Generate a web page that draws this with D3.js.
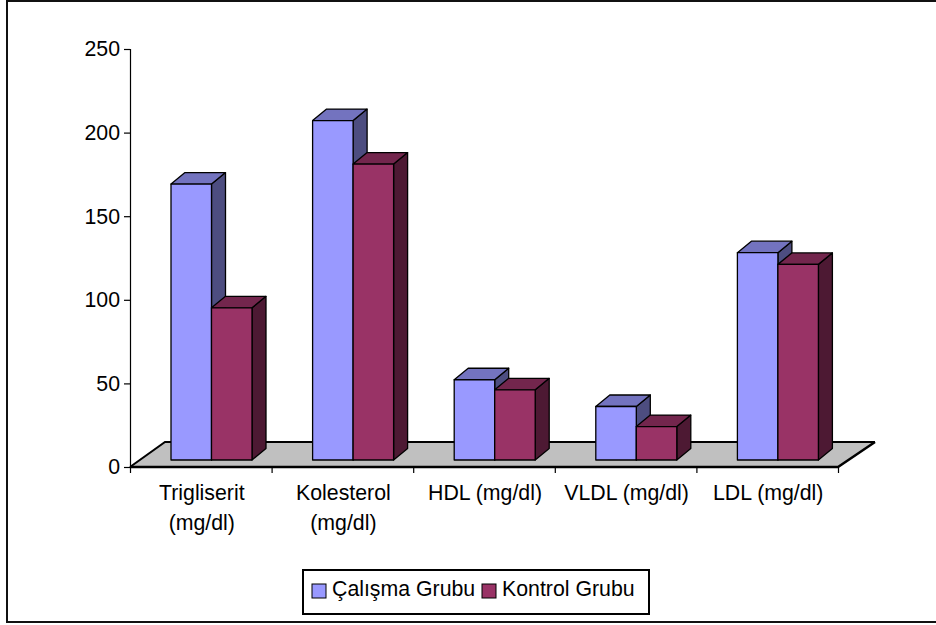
<!DOCTYPE html>
<html>
<head>
<meta charset="utf-8">
<script src="https://cdn.jsdelivr.net/npm/d3@7"></script>
<style>
    html, body { margin: 0; padding: 0; background: #fff; }
    svg { display: block; }
    text { font-family: "Liberation Sans", Arial, sans-serif; fill: #000; }
</style>
</head>
<body>
<svg id="drawing_region"></svg>
<script>
const categories = [["Trigliserit", "(mg/dl)"], ["Kolesterol", "(mg/dl)"], ["HDL (mg/dl)"], ["VLDL (mg/dl)"], ["LDL (mg/dl)"]];
const calisma = [165, 203, 48, 32, 124];
const kontrol = [91, 177, 42, 20, 117];
const yTicks = [0, 50, 100, 150, 200, 250];
const seriesNames = ["Çalışma Grubu", "Kontrol Grubu"];

const width = 936, height = 625;
const left = 130, right = 838, top0 = 49, bottom = 467;
const fontSize = 21.3;
const depth = {x: 35, y: 25};      // floor depth
const barDepth = {x: 14, y: 11.5}; // bar depth
const barLift = 7;                 // bars stand a little behind the front edge

const colors = [
    {front: "#9999ff", top: "#7373bf", side: "#4d4d80"},
    {front: "#993366", top: "#73264d", side: "#4d1933"}
];

const svg = d3.select("#drawing_region").attr("width", width).attr("height", height);

// frame, the right side is cut off in the original
svg.append("path")
    .attr("d", `M936,1H7V622H936`)
    .attr("fill", "white").attr("stroke", "#111").attr("stroke-width", 2);

const x = d3.scaleBand().domain(d3.range(categories.length)).range([left, right]);
const xInner = d3.scaleBand().domain([0, 1]).range([41, 122]);
const y = d3.scaleLinear().domain([0, 250]).range([bottom, top0]);

// floor
svg.append("path")
    .attr("d", `M${left},${bottom}L${left + depth.x},${bottom - depth.y}H${right + depth.x + 2}L${right},${bottom}Z`)
    .attr("fill", "#c0c0c0").attr("stroke", "none");
svg.append("path")
    .attr("d", `M${left},${bottom}L${left + depth.x},${bottom - depth.y}H${right + depth.x + 2}`)
    .attr("fill", "none").attr("stroke", "#000").attr("stroke-width", 2);
svg.append("path")
    .attr("d", `M${left},${bottom}H${right}L${right + depth.x + 2},${bottom - depth.y}`)
    .attr("fill", "none").attr("stroke", "#000").attr("stroke-width", 2.5);

// axes
const yAxis = d3.axisLeft(y).tickValues(yTicks).tickSize(6).tickPadding(4);
const gy = svg.append("g").attr("transform", `translate(${left},0)`).call(yAxis);
gy.selectAll("text").attr("font-size", fontSize).style("font-family", '"Liberation Sans", Arial, sans-serif');
gy.selectAll("line, path").attr("stroke", "#000").attr("stroke-width", 1.2);

const xTickScale = d3.scaleLinear().domain([0, categories.length]).range([left, right]);
const xAxis = d3.axisBottom(xTickScale).tickValues(d3.range(categories.length + 1)).tickSize(6).tickFormat("");
const gx = svg.append("g").attr("transform", `translate(0,${bottom})`).call(xAxis);
gx.select("path").remove();
gx.selectAll("line").attr("stroke", "#000").attr("stroke-width", 1.2);

// bars, back to front
const bar = (v, i, s) => {
    const x0 = x(i) + xInner(s);
    const x1 = x0 + xInner.bandwidth();
    const y0 = y(0) - barLift;
    const y1 = y(v) - barLift;
    const g = svg.append("g").attr("stroke", "#000").attr("stroke-width", 1.3).attr("stroke-linejoin", "round");
    g.append("path").attr("fill", colors[s].side)
        .attr("d", `M${x1},${y0}L${x1 + barDepth.x},${y0 - barDepth.y}V${y1 - barDepth.y}L${x1},${y1}Z`);
    g.append("path").attr("fill", colors[s].top)
        .attr("d", `M${x0},${y1}L${x0 + barDepth.x},${y1 - barDepth.y}H${x1 + barDepth.x}L${x1},${y1}Z`);
    g.append("path").attr("fill", colors[s].front)
        .attr("d", `M${x0},${y0}V${y1}H${x1}V${y0}Z`);
};
categories.forEach((c, i) => {
    bar(calisma[i], i, 0);
    bar(kontrol[i], i, 1);
});

// category labels
categories.forEach((c, i) => {
    const t = svg.append("text")
        .attr("y", 500)
        .attr("text-anchor", "middle")
        .attr("font-size", fontSize);
    c.forEach((line, k) => t.append("tspan")
        .attr("x", x(i) + x.bandwidth() / 2 + 1)
        .attr("dy", k ? 30 : 0)
        .text(line));
});

// legend
const legend = svg.append("g");
legend.append("rect")
    .attr("x", 303).attr("y", 570).attr("width", 346).attr("height", 44)
    .attr("fill", "white").attr("stroke", "#000").attr("stroke-width", 2);
const legendX = [312, 482];
seriesNames.forEach((name, i) => {
    legend.append("rect")
        .attr("x", legendX[i]).attr("y", 584).attr("width", 14).attr("height", 14)
        .attr("fill", colors[i].front).attr("stroke", "#000");
    legend.append("text")
        .attr("x", legendX[i] + 20).attr("y", 596)
        .attr("font-size", fontSize)
        .text(name);
});
</script>
</body>
</html>
